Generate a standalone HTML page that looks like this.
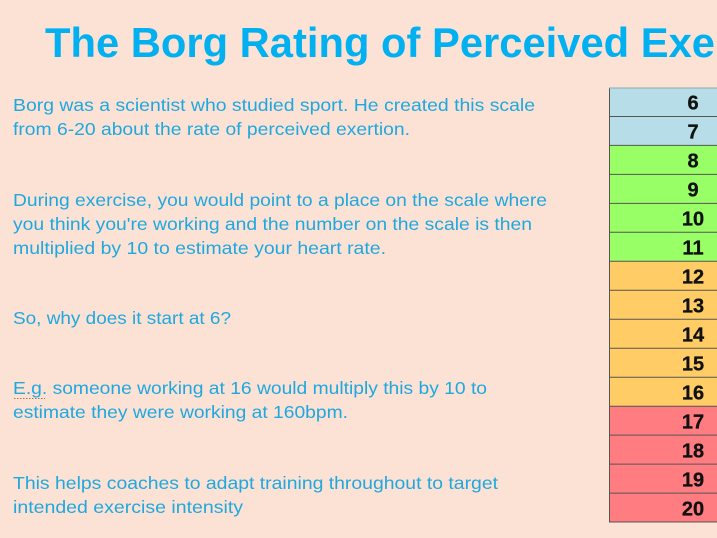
<!DOCTYPE html>
<html><head><meta charset="utf-8"><style>
html,body{margin:0;padding:0;background:#fbe2d5;}
svg{display:block}
.b{font-family:"Liberation Sans",sans-serif;font-size:17.5px;fill:#1fa8df;}
.n{font-family:"Liberation Sans",sans-serif;font-size:20px;font-weight:bold;fill:#111;stroke:#111;stroke-width:0.3;text-anchor:middle;}
</style></head><body>
<svg width="717" height="538" viewBox="0 0 717 538" xmlns="http://www.w3.org/2000/svg">
<rect width="717" height="538" fill="#fbe2d5"/>
<text x="45" y="57" font-family="'Liberation Sans',sans-serif" font-weight="bold" font-size="42" fill="#00b0f0" textLength="670" lengthAdjust="spacingAndGlyphs">The Borg Rating of Perceived Exe</text>

<text class="b" x="13" y="111" textLength="522" lengthAdjust="spacingAndGlyphs">Borg was a scientist who studied sport. He created this scale</text>
<text class="b" x="13" y="135" textLength="397" lengthAdjust="spacingAndGlyphs">from 6-20 about the rate of perceived exertion.</text>
<text class="b" x="13" y="206" textLength="534" lengthAdjust="spacingAndGlyphs">During exercise, you would point to a place on the scale where</text>
<text class="b" x="13" y="230" textLength="519" lengthAdjust="spacingAndGlyphs">you think you're working and the number on the scale is then</text>
<text class="b" x="13" y="254" textLength="373" lengthAdjust="spacingAndGlyphs">multiplied by 10 to estimate your heart rate.</text>
<text class="b" x="13" y="324" textLength="218" lengthAdjust="spacingAndGlyphs">So, why does it start at 6?</text>
<text class="b" x="13" y="394" textLength="474" lengthAdjust="spacingAndGlyphs">E.g. someone working at 16 would multiply this by 10 to</text>
<line x1="14" y1="398.5" x2="45" y2="398.5" stroke="#a07850" stroke-width="1" stroke-dasharray="1.5,1.5"/>
<text class="b" x="13" y="418" textLength="335" lengthAdjust="spacingAndGlyphs">estimate they were working at 160bpm.</text>
<text class="b" x="13" y="489" textLength="485" lengthAdjust="spacingAndGlyphs">This helps coaches to adapt training throughout to target</text>
<text class="b" x="13" y="513" textLength="230" lengthAdjust="spacingAndGlyphs">intended exercise intensity</text>

<g>
<rect x="609" y="87.5" width="108" height="57.9" fill="#b7dee8"/>
<rect x="609" y="145.4" width="108" height="115.9" fill="#99ff66"/>
<rect x="609" y="261.3" width="108" height="144.9" fill="#ffcc66"/>
<rect x="609" y="406.2" width="108" height="115.9" fill="#ff7c80"/>
<g stroke="#555" stroke-width="1">
<line x1="609.5" y1="87.5" x2="609.5" y2="522"/>
<line x1="609" y1="88" x2="717" y2="88" stroke="#8aa"/>
<line x1="609" y1="116.5" x2="717" y2="116.5"/>
<line x1="609" y1="145.4" x2="717" y2="145.4"/>
<line x1="609" y1="174.4" x2="717" y2="174.4"/>
<line x1="609" y1="203.4" x2="717" y2="203.4"/>
<line x1="609" y1="232.3" x2="717" y2="232.3"/>
<line x1="609" y1="261.3" x2="717" y2="261.3"/>
<line x1="609" y1="290.3" x2="717" y2="290.3"/>
<line x1="609" y1="319.2" x2="717" y2="319.2"/>
<line x1="609" y1="348.2" x2="717" y2="348.2"/>
<line x1="609" y1="377.2" x2="717" y2="377.2"/>
<line x1="609" y1="406.2" x2="717" y2="406.2"/>
<line x1="609" y1="435.1" x2="717" y2="435.1"/>
<line x1="609" y1="464.1" x2="717" y2="464.1"/>
<line x1="609" y1="493.1" x2="717" y2="493.1"/>
<line x1="609" y1="522" x2="717" y2="522"/>
</g>
<text class="n" x="693" y="109.5">6</text>
<text class="n" x="693" y="138.5">7</text>
<text class="n" x="693" y="167.5">8</text>
<text class="n" x="693" y="196.5">9</text>
<text class="n" x="693" y="225.5">10</text>
<text class="n" x="693" y="254.5">11</text>
<text class="n" x="693" y="283.5">12</text>
<text class="n" x="693" y="312.5">13</text>
<text class="n" x="693" y="341.5">14</text>
<text class="n" x="693" y="370.5">15</text>
<text class="n" x="693" y="399.5">16</text>
<text class="n" x="693" y="428.5">17</text>
<text class="n" x="693" y="457.5">18</text>
<text class="n" x="693" y="486.5">19</text>
<text class="n" x="693" y="515.5">20</text>
</g>
</svg>
</body></html>
